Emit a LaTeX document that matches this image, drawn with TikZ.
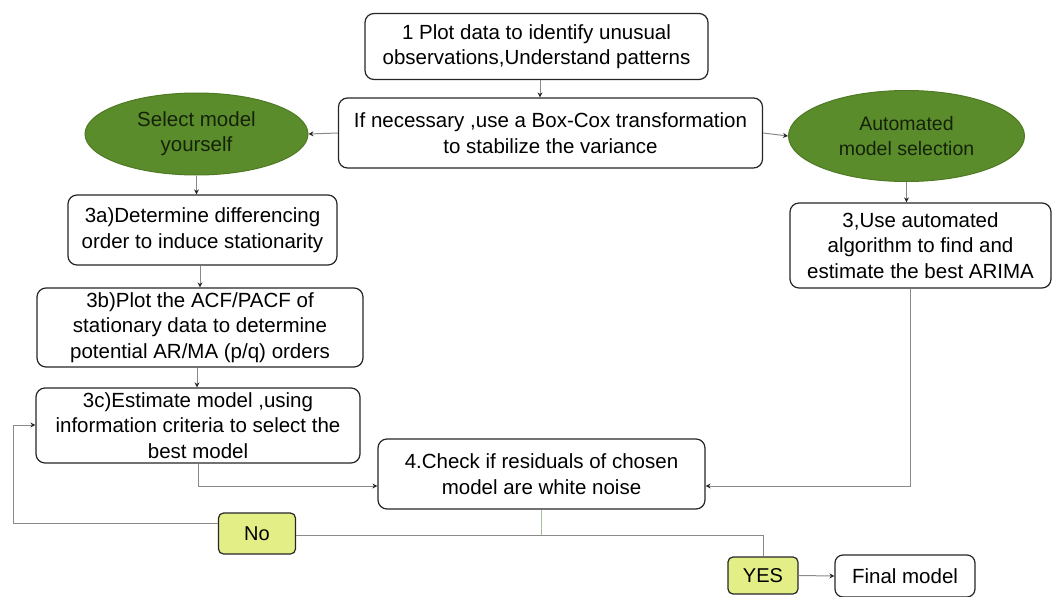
\documentclass[tikz,border=0pt]{standalone}
\usepackage{fontspec}
\setmainfont{Liberation Sans}
\usetikzlibrary{shapes.geometric,arrows.meta}
\definecolor{lgreen}{HTML}{5B8C2B}
\definecolor{dgreen}{HTML}{4E7A24}
\definecolor{yel}{HTML}{E4EE86}
\definecolor{conn}{HTML}{8A8A8A}
\definecolor{gline}{HTML}{A8C090}
\definecolor{otext}{HTML}{142208}
\begin{document}
\begin{tikzpicture}[x=1pt,y=-1pt,
 box/.style={draw=black!85, line width=1.2pt, rounded corners=9pt, align=center,
   font=\fontsize{20.5}{25.5}\selectfont, inner sep=0pt, fill=white},
 oval/.style={ellipse, draw=dgreen, line width=1pt, fill=lgreen, align=center,
   text=otext, inner sep=0pt},
 yn/.style={draw=black!85, line width=1.2pt, fill=yel, rounded corners=5pt, inner sep=0pt,
   font=\fontsize{20}{24}\selectfont},
 arr/.style={draw=conn, line width=1pt, -{Stealth[length=5pt,width=5pt,color=black!85]}},
 ln/.style={draw=conn, line width=1pt}
]
\useasboundingbox (0,0) rectangle (1053,597);
\node[box, minimum width=343, minimum height=66] (b1) at (536.5,46.5)
  {1 Plot data to identify unusual\\observations,Understand patterns};
\node[box, minimum width=424, minimum height=70] (b2) at (550.5,133)
  {If necessary ,use a Box-Cox transformation\\to stabilize the variance};
\node[oval, font=\fontsize{20.5}{25}\selectfont, minimum width=223, minimum height=82] (sel) at (196.5,134)
  {Select model\\yourself};
\node[oval, font=\fontsize{19.5}{25}\selectfont, minimum width=236, minimum height=91] (auto) at (906.5,136)
  {Automated\\model selection};
\node[box, minimum width=269, minimum height=70] (b3a) at (202.5,230)
  {3a)Determine differencing\\order to induce stationarity};
\node[box, minimum width=326, minimum height=79] (b3b) at (200,327.5)
  {3b)Plot the ACF/PACF of\\stationary data to determine\\potential AR/MA (p/q) orders};
\node[box, minimum width=324, minimum height=75] (b3c) at (198,425.5)
  {3c)Estimate model ,using\\information criteria to select the\\best model};
\node[box, minimum width=261, minimum height=85] (b3) at (920.5,245.5)
  {3,Use automated\\algorithm to find and\\estimate the best ARIMA};
\node[box, minimum width=327, minimum height=70] (b4) at (541.5,474)
  {4.Check if residuals of chosen\\model are white noise};
\node[yn, minimum width=77, minimum height=41] (no) at (257,533.5) {No};
\node[yn, minimum width=70, minimum height=37] (yes) at (763,575.5) {YES};
\node[box, rounded corners=8pt, minimum width=140, minimum height=42] (fin) at (905,576) {Final model};
\coordinate (j) at (541,535);
\draw[arr] (b1.south -| 540,0) -- (b2.north -| 540,0);
\draw[arr] (b2.west) -- (sel.east);
\draw[arr] (b2.east) -- (auto.west);
\draw[arr] (sel.south) -- (b3a.north -| sel.south);
\draw[arr] (b3a.south -| 200,0) -- (b3b.north -| 200,0);
\draw[arr] (b3b.south -| 197,0) -- (b3c.north -| 197,0);
\draw[arr] (auto.south) -- (b3.north -| auto.south);
\draw[arr] (b3c.south) |- (b4.west |- 0,486);
\draw[arr] (b3.south -| 910,0) |- (b4.east |- 0,486);
\draw[draw=gline, line width=1pt] (b4.south -| j) -- (j);
\draw[ln] (j) -- (no.east |- j);
\draw[ln] (j) -| (yes.north);
\draw[arr] (no.west |- 0,523) -| (13,425) -- (b3c.west |- 0,425);
\draw[arr] (yes.east) -- (fin.west);
\end{tikzpicture}
\end{document}
